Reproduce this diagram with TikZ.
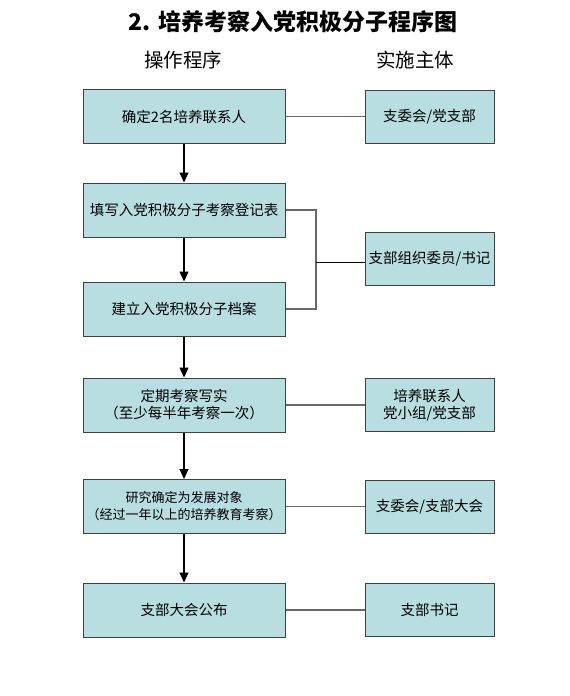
\documentclass[tikz,border=0pt]{standalone}
\usepackage{fontspec}
\setmainfont{Noto Sans CJK SC}
\newfontfamily\cjk{Noto Sans CJK SC}
\usetikzlibrary{arrows.meta}
\definecolor{boxfill}{RGB}{184,222,226}
\definecolor{linegray}{RGB}{105,105,105}
\tikzset{
  stepbox/.style={draw=black!75, line width=1pt, fill=boxfill, rectangle, inner sep=0pt,
    align=center, font=\cjk\fontsize{14.5}{17}\selectfont},
  leftbox/.style={stepbox, minimum width=202pt, minimum height=54pt},
  rightbox/.style={stepbox, minimum width=129pt, minimum height=53pt},
  flow/.style={line width=1.1pt, black, -{Triangle[width=9pt,length=10pt]}},
  link/.style={line width=1.2pt, linegray},
  linkb/.style={line width=0.9pt, black},
}
\begin{document}
\begin{tikzpicture}[x=1pt,y=-1pt]
\useasboundingbox[fill=white] (0,0) rectangle (570,696);
\node[font=\cjk\bfseries\fontsize{23}{26}\selectfont] (title) at (293,22) {2. 培养考察入党积极分子程序图};
\node[font=\cjk\fontsize{19.5}{22}\selectfont] (h1) at (183,60) {操作程序};
\node[font=\cjk\fontsize{19.5}{22}\selectfont] (h2) at (415,60) {实施主体};

\node[leftbox] (a1) at (184,116.5) {确定2名培养联系人};
\node[leftbox] (a2) at (184,210) {填写入党积极分子考察登记表};
\node[leftbox] (a3) at (184,309) {建立入党积极分子档案};
\node[leftbox] (a4) at (184,405) {定期考察写实\\（至少每半年考察一次）};
\node[leftbox, font=\cjk\fontsize{13}{17}\selectfont] (a5) at (184,506.5) {研究确定为发展对象\\（经过一年以上的培养教育考察）};
\node[leftbox] (a6) at (184,610) {支部大会公布};

\node[rightbox] (b1) at (429.5,116.5) {支委会/党支部};
\node[rightbox] (b2) at (429.5,258.5) {支部组织委员/书记};
\node[rightbox] (b4) at (429.5,405) {培养联系人\\党小组/党支部};
\node[rightbox] (b5) at (429.5,506.5) {支委会/支部大会};
\node[rightbox] (b6) at (429.5,610) {支部书记};

\draw[flow] (a1) -- (a2);
\draw[flow] (a2) -- (a3);
\draw[flow] (a3) -- (a4);
\draw[flow] (a4) -- (a5);
\draw[flow] (a5) -- (a6);

\draw[link] (a1) -- (b1);
\coordinate (j1) at (316,210);
\coordinate (j2) at (316,309);
\coordinate (j3) at (316,262);
\draw[link] (a2.east) -- (j1) -- (j2) -- (a3.east);
\draw[linkb] (j3) -- (j3 -| b2.west);
\draw[link] (a4) -- (b4);
\draw[link] (a5) -- (b5);
\draw[link] (a6) -- (b6);
\end{tikzpicture}
\end{document}
